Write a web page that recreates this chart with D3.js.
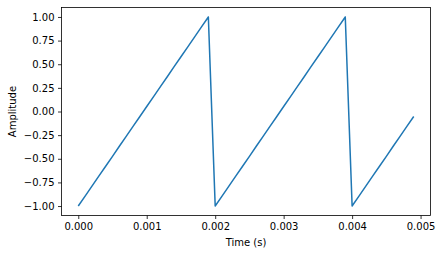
<!DOCTYPE html>
<html>
<head>
<meta charset="utf-8">
<script src="https://cdn.jsdelivr.net/npm/d3@7"></script>
<style>
  body { margin: 0; background: #fff; }
  text { font-family: 'DejaVu Sans', sans-serif; fill: #000; }
</style>
</head>
<body>
<div id="chart"></div>
<script>
// Data: 20 samples per cycle, 0.1 ms step
const times = [
  0.0000, 0.0001, 0.0002, 0.0003, 0.0004, 0.0005, 0.0006, 0.0007, 0.0008, 0.0009,
  0.0010, 0.0011, 0.0012, 0.0013, 0.0014, 0.0015, 0.0016, 0.0017, 0.0018, 0.0019,
  0.0020, 0.0021, 0.0022, 0.0023, 0.0024, 0.0025, 0.0026, 0.0027, 0.0028, 0.0029,
  0.0030, 0.0031, 0.0032, 0.0033, 0.0034, 0.0035, 0.0036, 0.0037, 0.0038, 0.0039,
  0.0040, 0.0041, 0.0042, 0.0043, 0.0044, 0.0045, 0.0046, 0.0047, 0.0048, 0.0049
];
const amplitudes = [
  -1.000, -0.895, -0.789, -0.684, -0.579, -0.474, -0.368, -0.263, -0.158, -0.053,
  0.053, 0.158, 0.263, 0.368, 0.474, 0.579, 0.684, 0.789, 0.895, 1.000,
  -1.000, -0.895, -0.789, -0.684, -0.579, -0.474, -0.368, -0.263, -0.158, -0.053,
  0.053, 0.158, 0.263, 0.368, 0.474, 0.579, 0.684, 0.789, 0.895, 1.000,
  -1.000, -0.895, -0.789, -0.684, -0.579, -0.474, -0.368, -0.263, -0.158, -0.053
];
const xTicks = [0, 0.001, 0.002, 0.003, 0.004, 0.005];
const yTicks = [-1, -0.75, -0.5, -0.25, 0, 0.25, 0.5, 0.75, 1];

const width = 441;
const height = 255;
const margin = { top: 7.5, right: 10.5, bottom: 39.5, left: 61.5 };
const plotW = width - margin.left - margin.right;
const plotH = height - margin.top - margin.bottom;

const svg = d3.select('#chart')
  .append('svg')
  .attr('width', width)
  .attr('height', height);

const g = svg.append('g')
  .attr('transform', 'translate(' + margin.left + ',' + margin.top + ')');

// matplotlib-style 5% margins
const xPad = (d3.max(times) - d3.min(times)) * 0.05;
const x = d3.scaleLinear()
  .domain([d3.min(times) - xPad, d3.max(times) + xPad])
  .range([0, plotW]);

const y = d3.scaleLinear()
  .domain([-1.1, 1.1])
  .range([plotH, 0]);

const data = times.map((t, i) => ({ t: t, a: amplitudes[i] }));

// Line
g.append('path')
  .datum(data)
  .attr('fill', 'none')
  .attr('stroke', '#1f77b4')
  .attr('stroke-width', 1.5)
  .attr('stroke-linejoin', 'round')
  .attr('d', d3.line().x((d) => x(d.t)).y((d) => y(d.a)));

// Axes
const xAxis = d3.axisBottom(x)
  .tickValues(xTicks)
  .tickFormat(d3.format('.3f'))
  .tickSize(3.5)
  .tickPadding(3.5);
const yAxis = d3.axisLeft(y)
  .tickValues(yTicks)
  .tickFormat((d) => d3.format('.2f')(d).replace('-', '\u2212'))
  .tickSize(3.5)
  .tickPadding(3.5);

const gx = g.append('g')
  .attr('transform', 'translate(0,' + plotH + ')')
  .call(xAxis);
const gy = g.append('g').call(yAxis);

[gx, gy].forEach((ax) => {
  ax.select('.domain').remove();
  ax.selectAll('line').attr('stroke', '#000').attr('stroke-width', 0.8);
  ax.selectAll('text')
    .style('font-family', "'DejaVu Sans', sans-serif")
    .style('font-size', '10px')
    .attr('fill', '#000');
});

// Frame
g.append('rect')
  .attr('width', plotW)
  .attr('height', plotH)
  .attr('fill', 'none')
  .attr('stroke', '#000')
  .attr('stroke-width', 0.8);

// Axis labels
svg.append('text')
  .attr('x', margin.left + plotW / 2)
  .attr('y', 246)
  .attr('text-anchor', 'middle')
  .style('font-size', '10px')
  .text('Time (s)');

svg.append('text')
  .attr('transform', 'translate(16,' + (margin.top + plotH / 2) + ') rotate(-90)')
  .attr('text-anchor', 'middle')
  .style('font-size', '10px')
  .text('Amplitude');
</script>
</body>
</html>
